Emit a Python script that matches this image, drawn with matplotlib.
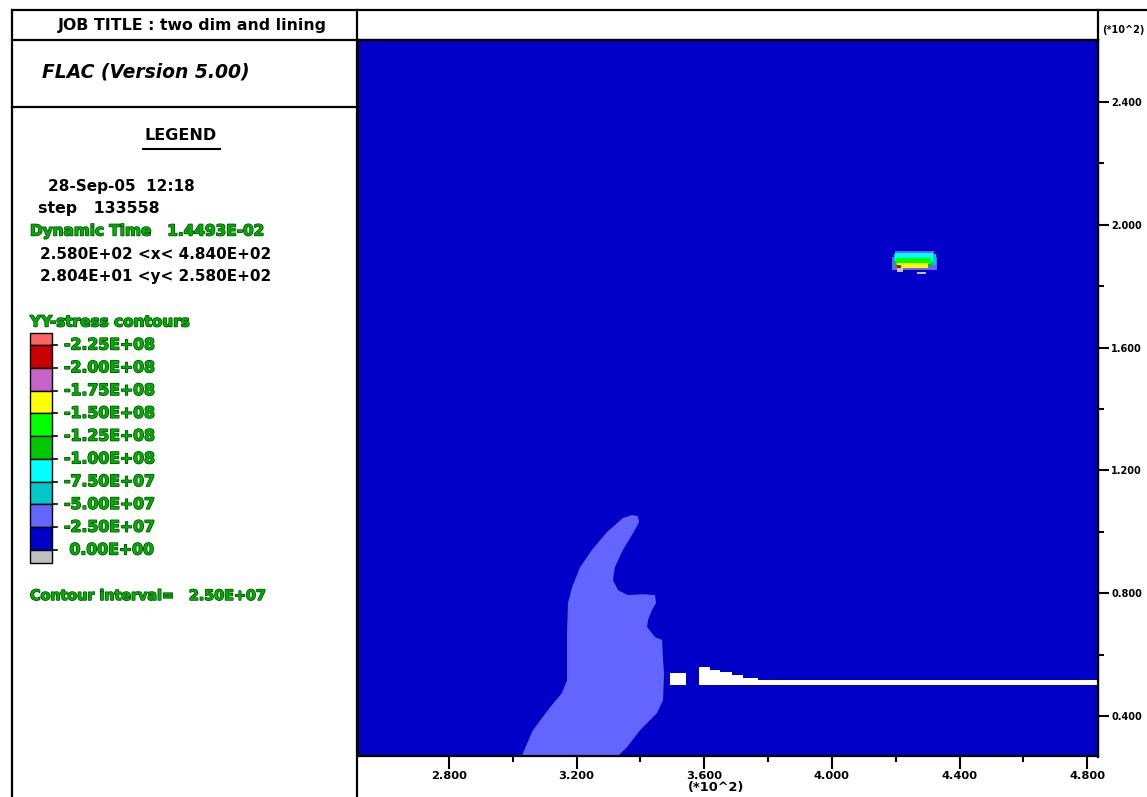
import matplotlib
matplotlib.use('Agg')
import matplotlib.pyplot as plt
import matplotlib.patheffects as pe
from matplotlib.patches import Rectangle
from matplotlib.lines import Line2D

# contour levels and colours (YY-stress)
level_labels = ['-2.25E+08', '-2.00E+08', '-1.75E+08', '-1.50E+08', '-1.25E+08',
                '-1.00E+08', '-7.50E+07', '-5.00E+07', '-2.50E+07', ' 0.00E+00']
level_colors = ['#ff6464', '#c80000', '#c864c8', '#ffff00', '#00ff00', '#00c800',
                '#00ffff', '#00c8c8', '#6464ff', '#0000c8', '#c0c0c0']

# axis ticks (*10^2)
x_ticks = [2.8, 3.2, 3.6, 4.0, 4.4, 4.8]
y_ticks = [0.4, 0.8, 1.2, 1.6, 2.0, 2.4]
x_range = (2.515, 4.834)
y_range = (0.270, 2.602)

# -2.50E+07 zone near the lower left
zone_x = [3.028, 3.063, 3.117, 3.154, 3.170, 3.170, 3.173, 3.186, 3.211, 3.248, 3.295, 3.345,
          3.374, 3.392, 3.396, 3.377, 3.345, 3.320, 3.314, 3.330, 3.361, 3.408, 3.446, 3.449,
          3.436, 3.424, 3.421, 3.446, 3.468, 3.471, 3.474, 3.471, 3.452, 3.399, 3.358, 3.330]
zone_y = [0.270, 0.354, 0.429, 0.475, 0.517, 0.670, 0.768, 0.820, 0.885, 0.941, 0.999, 1.045,
          1.055, 1.051, 1.032, 0.996, 0.941, 0.885, 0.843, 0.810, 0.794, 0.797, 0.794, 0.768,
          0.745, 0.713, 0.690, 0.657, 0.648, 0.582, 0.540, 0.452, 0.410, 0.354, 0.299, 0.270]

# null (removed) zones
gap_x = [3.584, 3.584, 3.618, 3.618, 3.650, 3.650, 3.687, 3.687, 3.722, 3.722, 3.769, 3.769, 4.84, 4.84]
gap_y = [0.501, 0.560, 0.560, 0.550, 0.550, 0.543, 0.543, 0.534, 0.534, 0.524, 0.524, 0.517, 0.517, 0.501]
hole_x = [3.493, 3.543, 3.543, 3.493]
hole_y = [0.501, 0.501, 0.540, 0.540]

# small high-stress spot: (colour index, x0, x1, y0, y1)
spot = [
    (8, 4.189, 4.330, 1.853, 1.895),
    (8, 4.198, 4.320, 1.895, 1.915),
    (7, 4.195, 4.325, 1.870, 1.905),
    (6, 4.198, 4.317, 1.879, 1.908),
    (5, 4.196, 4.315, 1.866, 1.882),
    (4, 4.200, 4.311, 1.872, 1.892),
    (3, 4.204, 4.302, 1.859, 1.876),
    (1, 4.204, 4.217, 1.856, 1.869),
    (10, 4.204, 4.223, 1.846, 1.859),
    (10, 4.267, 4.295, 1.840, 1.846),
]

W, H = 1147, 797
plt.rcParams['font.family'] = ['DejaVu Sans']
fig = plt.figure(figsize=(W / 100, H / 100), dpi=100)

# page overlay in pixel units for the frame and legend
lax = fig.add_axes([0, 0, 1, 1])
lax.set_xlim(0, W)
lax.set_ylim(H, 0)
lax.axis('off')

frame = [((12, 10), (1147, 10)), ((12, 10), (12, 797)), ((357, 10), (357, 797)),
         ((12, 40), (1098, 40)), ((12, 107), (357, 107)), ((1098, 10), (1098, 757))]
for (x0, y0), (x1, y1) in frame:
    lax.add_line(Line2D([x0, x1], [y0, y1], color='black', lw=1.6))

green = '#00b000'
stroke = [pe.withStroke(linewidth=1.0, foreground='#004000')]

lax.text(58, 25, 'JOB TITLE : two dim and lining', fontsize=11.3, fontweight='bold', va='center')
lax.text(42, 72, 'FLAC (Version 5.00)', fontsize=13.5, fontweight='bold', style='italic', va='center')
lax.text(181, 135, 'LEGEND', fontsize=11.5, fontweight='bold', va='center', ha='center')
lax.add_line(Line2D([143, 220], [149, 149], color='black', lw=1.5))
lax.text(48, 186, '28-Sep-05  12:18', fontsize=11, fontweight='bold', va='center')
lax.text(38, 208, 'step   133558', fontsize=11.3, fontweight='bold', va='center')
lax.text(30, 231, 'Dynamic Time   1.4493E-02', fontsize=11, fontweight='bold', va='center',
         color=green, path_effects=stroke)
lax.text(40, 254, '2.580E+02 <x< 4.840E+02', fontsize=11, fontweight='bold', va='center')
lax.text(40, 276, '2.804E+01 <y< 2.580E+02', fontsize=11, fontweight='bold', va='center')
lax.text(30, 322, 'YY-stress contours', fontsize=11, fontweight='bold', va='center',
         color=green, path_effects=stroke)

step = (550 - 345) / 9
edges = [333] + [345 + step * i for i in range(10)] + [563]
for i, c in enumerate(level_colors):
    lax.add_patch(Rectangle((30, edges[i]), 22, edges[i + 1] - edges[i],
                            facecolor=c, edgecolor='black', lw=1))
for i, lab in enumerate(level_labels):
    yb = edges[i + 1]
    lax.add_line(Line2D([52, 57], [yb, yb], color='black', lw=1.2))
    lax.text(64, yb, lab, fontsize=11.3, fontweight='bold', va='center',
             color=green, path_effects=stroke)

lax.text(30, 596, 'Contour interval=   2.50E+07', fontsize=10.3, fontweight='bold', va='center',
         color=green, path_effects=stroke)

# main contour plot
ax = fig.add_axes([358 / W, 1 - 756 / H, 740 / W, 716 / H])
ax.set_facecolor(level_colors[9])
ax.fill(zone_x, zone_y, color=level_colors[8], lw=0)
ax.fill(gap_x, gap_y, color='white', lw=0)
ax.fill(hole_x, hole_y, color='white', lw=0)
for ci, x0, x1, y0, y1 in spot:
    ax.add_patch(Rectangle((x0, y0), x1 - x0, y1 - y0, facecolor=level_colors[ci], lw=0))

ax.set_xlim(*x_range)
ax.set_ylim(*y_range)
ax.yaxis.tick_right()
ax.xaxis.tick_bottom()
ax.set_xticks(x_ticks)
ax.set_yticks(y_ticks)
ax.set_xticks([(a + b) / 2 for a, b in zip(x_ticks[:-1], x_ticks[1:])], minor=True)
ax.set_yticks([(a + b) / 2 for a, b in zip(y_ticks[:-1], y_ticks[1:])], minor=True)
ax.set_xticklabels(['%.3f' % v for v in x_ticks], fontsize=8.2, fontweight='bold')
ax.set_yticklabels(['%.3f' % v for v in y_ticks], fontsize=7, fontweight='bold')
ax.tick_params(which='major', direction='out', length=9, width=1.5, pad=2)
ax.tick_params(axis='y', which='major', length=8, pad=1.5)
ax.tick_params(which='minor', direction='out', length=4, width=1.5)
for s in ax.spines.values():
    s.set_linewidth(1.6)

lax.text(716, 787, '(*10^2)', fontsize=9.3, fontweight='bold', ha='center', va='center')
lax.text(1102, 30, '(*10^2)', fontsize=7, fontweight='bold', ha='left', va='center')

fig.savefig('out.png', dpi=100)
